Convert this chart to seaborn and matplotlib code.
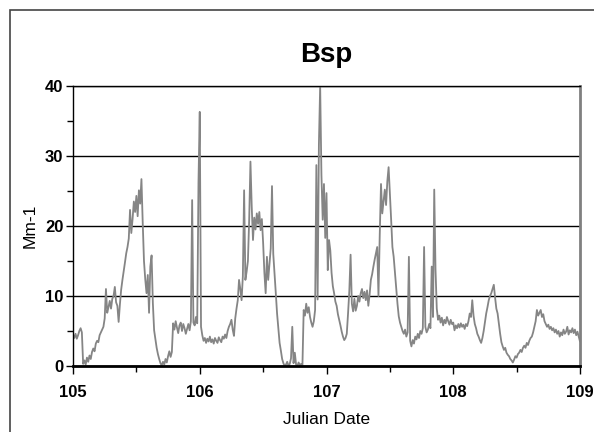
import numpy as np
import pandas as pd
import matplotlib
matplotlib.use('Agg')
import matplotlib.pyplot as plt
import matplotlib.patches as mpatches
from matplotlib.ticker import MultipleLocator
import seaborn as sns

# ── Data: Bsp (Mm-1), one reading every 0.01 day ─────────────────────────
bsp_105 = [4.5, 4.0, 4.6, 3.9, 4.4, 5.0, 5.4, 4.8, 0.3, 0.8,
           0.2, 1.2, 0.6, 1.5, 1.0, 2.0, 2.5, 2.1, 3.2, 3.6,
           3.4, 4.4, 4.8, 5.2, 5.6, 6.8, 11.0, 7.6, 8.4, 9.3,
           8.2, 9.6, 10.0, 11.3, 9.1, 8.6, 6.3, 8.8, 10.9, 12.3,
           13.5, 14.8, 16.1, 17.0, 18.2, 22.3, 19.0, 21.0, 23.5, 22.0,
           24.3, 21.4, 25.1, 23.2, 26.7, 20.5, 15.0, 12.4, 10.4, 13.0,
           7.6, 14.2, 15.8, 9.0, 5.1, 3.8, 2.6, 1.7, 1.0, 0.4,
           0.1, 0.6, 0.2, 1.0, 0.5, 1.4, 2.1, 1.3, 2.0, 6.1,
           5.2, 6.4, 5.5, 4.7, 5.8, 6.2, 5.0, 6.0, 5.4, 4.6,
           5.3, 6.0, 5.1, 6.4, 23.7, 6.2, 5.8, 7.0, 6.1, 26.2]
bsp_106 = [36.3, 5.6, 4.4, 3.6, 4.0, 3.3, 3.9, 3.5, 4.2, 3.4,
           3.8, 3.2, 4.0, 3.6, 3.3, 4.1, 3.7, 3.4, 4.2, 3.9,
           4.5, 4.0, 5.0, 5.6, 6.0, 6.6, 5.2, 4.3, 6.8, 8.2,
           9.4, 12.3, 11.0, 9.4, 12.8, 25.1, 12.3, 13.5, 15.0, 20.9,
           29.2, 22.8, 18.0, 21.2, 19.5, 21.8, 20.3, 22.0, 19.4, 21.0,
           17.6, 13.3, 10.4, 15.6, 12.3, 14.5, 16.8, 25.7, 16.0, 13.3,
           10.4, 7.5, 5.4, 3.3, 2.2, 1.0, 0.4, 0.0, 0.2, 0.6,
           0.0, 0.3, 1.1, 5.6, 0.4, 1.9, 0.2, 0.0, 0.5, 0.1,
           0.3, 0.0, 8.0, 7.2, 8.9, 7.6, 8.4, 7.0, 6.2, 5.6,
           6.4, 8.0, 28.7, 9.5, 31.6, 40.0, 27.3, 20.9, 26.0, 18.3]
bsp_107 = [24.7, 13.7, 18.0, 16.5, 13.3, 11.4, 10.4, 9.2, 8.6, 7.4,
           6.6, 5.8, 4.9, 4.2, 3.7, 4.0, 4.6, 7.5, 10.7, 15.9,
           8.9, 7.8, 9.6, 7.9, 8.6, 10.0, 9.2, 10.4, 11.0, 9.7,
           10.6, 9.4, 10.8, 8.6, 10.2, 12.3, 13.1, 14.2, 15.2, 16.1,
           17.0, 10.0, 18.7, 26.0, 21.8, 23.5, 25.2, 23.0, 26.4, 28.4,
           24.8, 20.9, 17.0, 15.6, 13.3, 11.0, 8.9, 7.1, 6.2, 5.6,
           5.0, 4.6, 5.2, 4.2, 4.8, 15.6, 3.6, 2.8, 3.7, 3.2,
           4.2, 3.8, 4.6, 4.0, 5.0, 4.6, 5.4, 17.0, 5.6, 4.8,
           5.2, 6.0, 5.4, 14.2, 7.0, 25.2, 13.8, 8.2, 6.6, 7.2,
           6.2, 6.9, 5.8, 6.6, 6.1, 7.0, 6.4, 5.9, 6.6, 6.0]
bsp_108 = [6.2, 5.1, 5.8, 5.4, 6.0, 5.5, 6.1, 5.6, 5.9, 5.3,
           6.0, 5.7, 6.4, 7.5, 7.0, 9.4, 7.2, 6.0, 5.4, 4.6,
           4.2, 3.7, 3.3, 4.0, 5.0, 6.2, 7.5, 8.4, 9.4, 10.0,
           10.4, 11.0, 11.6, 9.8, 8.2, 7.5, 6.0, 4.6, 3.4, 2.8,
           2.3, 2.6, 1.9, 1.6, 1.4, 1.0, 0.8, 0.5, 0.9, 1.4,
           1.2, 1.7, 1.9, 2.3, 2.0, 2.6, 2.9, 2.6, 3.3, 3.0,
           3.6, 4.0, 4.2, 4.8, 5.6, 6.4, 8.0, 7.2, 7.6, 8.0,
           7.0, 7.4, 6.4, 6.0, 5.6, 5.9, 5.3, 5.6, 5.1, 5.4,
           4.8, 5.2, 4.6, 5.0, 4.2, 4.8, 4.4, 5.2, 4.6, 4.9,
           5.6, 4.5, 5.1, 4.8, 5.4, 4.7, 5.2, 4.4, 4.9, 4.2]
bsp_end = [3.5]

x_ticks = [105, 106, 107, 108, 109]
y_ticks = [0, 10, 20, 30, 40]

bsp = bsp_105 + bsp_106 + bsp_107 + bsp_108 + bsp_end
df = pd.DataFrame({'Julian': 105 + np.arange(len(bsp)) / 100, 'Bsp': bsp})

# ── Style ────────────────────────────────────────────────────────────────
sns.set_style('white')
plt.rcParams['font.family'] = ['Liberation Sans', 'DejaVu Sans']
plt.rcParams.update({'text.color': 'black', 'axes.labelcolor': 'black',
                     'xtick.color': 'black', 'ytick.color': 'black'})

fig = plt.figure(figsize=(5.94, 4.32), dpi=100)
ax = fig.add_axes([73 / 594, 1 - 366 / 432, 507 / 594, 280 / 432])

sns.lineplot(data=df, x='Julian', y='Bsp', ax=ax, color='#858585',
             linewidth=1.3, estimator=None, sort=False)

ax.set_xlim(105, 109)
ax.set_ylim(0, 40)
ax.set_xticks(x_ticks)
ax.set_yticks(y_ticks)
ax.xaxis.set_minor_locator(MultipleLocator(0.5))
ax.yaxis.set_minor_locator(MultipleLocator(5))
ax.set_xticklabels([str(t) for t in x_ticks], fontsize=12, fontweight='bold')
ax.set_yticklabels([str(t) for t in y_ticks], fontsize=12, fontweight='bold')
ax.tick_params(axis='x', which='major', direction='out', length=6, width=1,
               pad=8, bottom=True, color='black')
ax.tick_params(axis='x', which='minor', direction='out', length=4, width=1,
               bottom=True, color='black')
ax.tick_params(axis='y', which='major', direction='out', length=5, width=1,
               pad=2, left=True, color='black')
ax.tick_params(axis='y', which='minor', direction='out', length=4, width=1,
               left=True, color='black')

ax.yaxis.grid(True, color='black', linewidth=1)
ax.xaxis.grid(False)
ax.set_axisbelow(True)

ax.spines['bottom'].set_color('black')
ax.spines['bottom'].set_linewidth(2)
ax.spines['left'].set_color('black')
ax.spines['left'].set_linewidth(1)
ax.spines['top'].set_color('black')
ax.spines['top'].set_linewidth(1)
ax.spines['right'].set_color('#808080')
ax.spines['right'].set_linewidth(2)

ax.set_title('Bsp', fontsize=20, fontweight='bold', pad=17)
ax.set_xlabel('Julian Date', fontsize=12.5, labelpad=8)
ax.set_ylabel('Mm-1', fontsize=12.5, labelpad=5)

# outer frame of the chart area
fig.patches.append(mpatches.Rectangle((10 / 594, -0.1), 1.2, 1.1 - 10 / 432,
                                      transform=fig.transFigure, fill=False,
                                      edgecolor='#444444', linewidth=1.2))

fig.savefig('out.png', dpi=100)
